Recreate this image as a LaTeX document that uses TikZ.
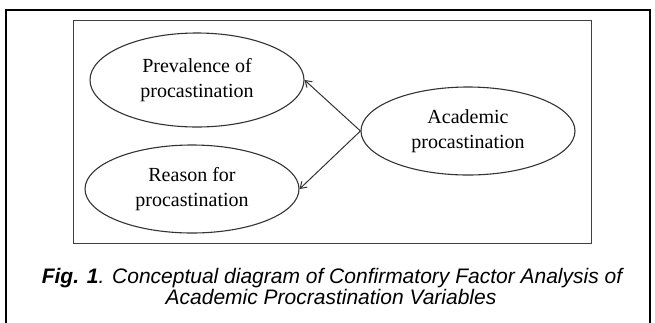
\documentclass[tikz,border=0pt]{standalone}
\usepackage{fontspec}
\setmainfont{Liberation Serif}
\newfontfamily\capfont{Liberation Sans}
\usetikzlibrary{shapes.geometric,arrows.meta}
\begin{document}
\begin{tikzpicture}[x=1pt,y=-1pt,
  latent/.style={ellipse,draw=black!80,line width=1.1pt,minimum width=214pt,minimum height=92pt,inner sep=0pt,align=center,font=\fontsize{20}{25}\selectfont},
  pathline/.style={draw=black!80,line width=1pt,-{Straight Barb[length=6pt,width=8pt]}},
  captxt/.style={font=\capfont\fontsize{21}{21}\selectfont\itshape,anchor=base,inner sep=0pt}]
\useasboundingbox (0,0) rectangle (655,322);
\clip (0,0) rectangle (655,322);
\fill[white] (0,0) rectangle (655,322);
\draw[line width=2pt] (6,330) -- (6,9.5) -- (650,9.5) -- (650,330);
\node[draw=black!75,line width=1pt,minimum width=518pt,minimum height=223pt,inner sep=0pt] (frame) at (332,131.5) {};
\node[latent,minimum height=94pt] (prev) at (197,80) {Prevalence of\\procastination};
\node[latent,minimum height=88pt] (reason) at (192,189) {Reason for\\procastination};
\node[latent,minimum height=88pt] (acad) at (468,131) {Academic\\procastination};
\draw[pathline] (acad.west) -- (prev.east);
\draw[pathline] (acad.west) -- (reason.east);
\node[captxt] (cap1) at (332,283) {\textbf{Fig. 1}. Conceptual diagram of Confirmatory Factor Analysis of};
\node[captxt] (cap2) at (331,304) {Academic Procrastination Variables};
\end{tikzpicture}
\end{document}
